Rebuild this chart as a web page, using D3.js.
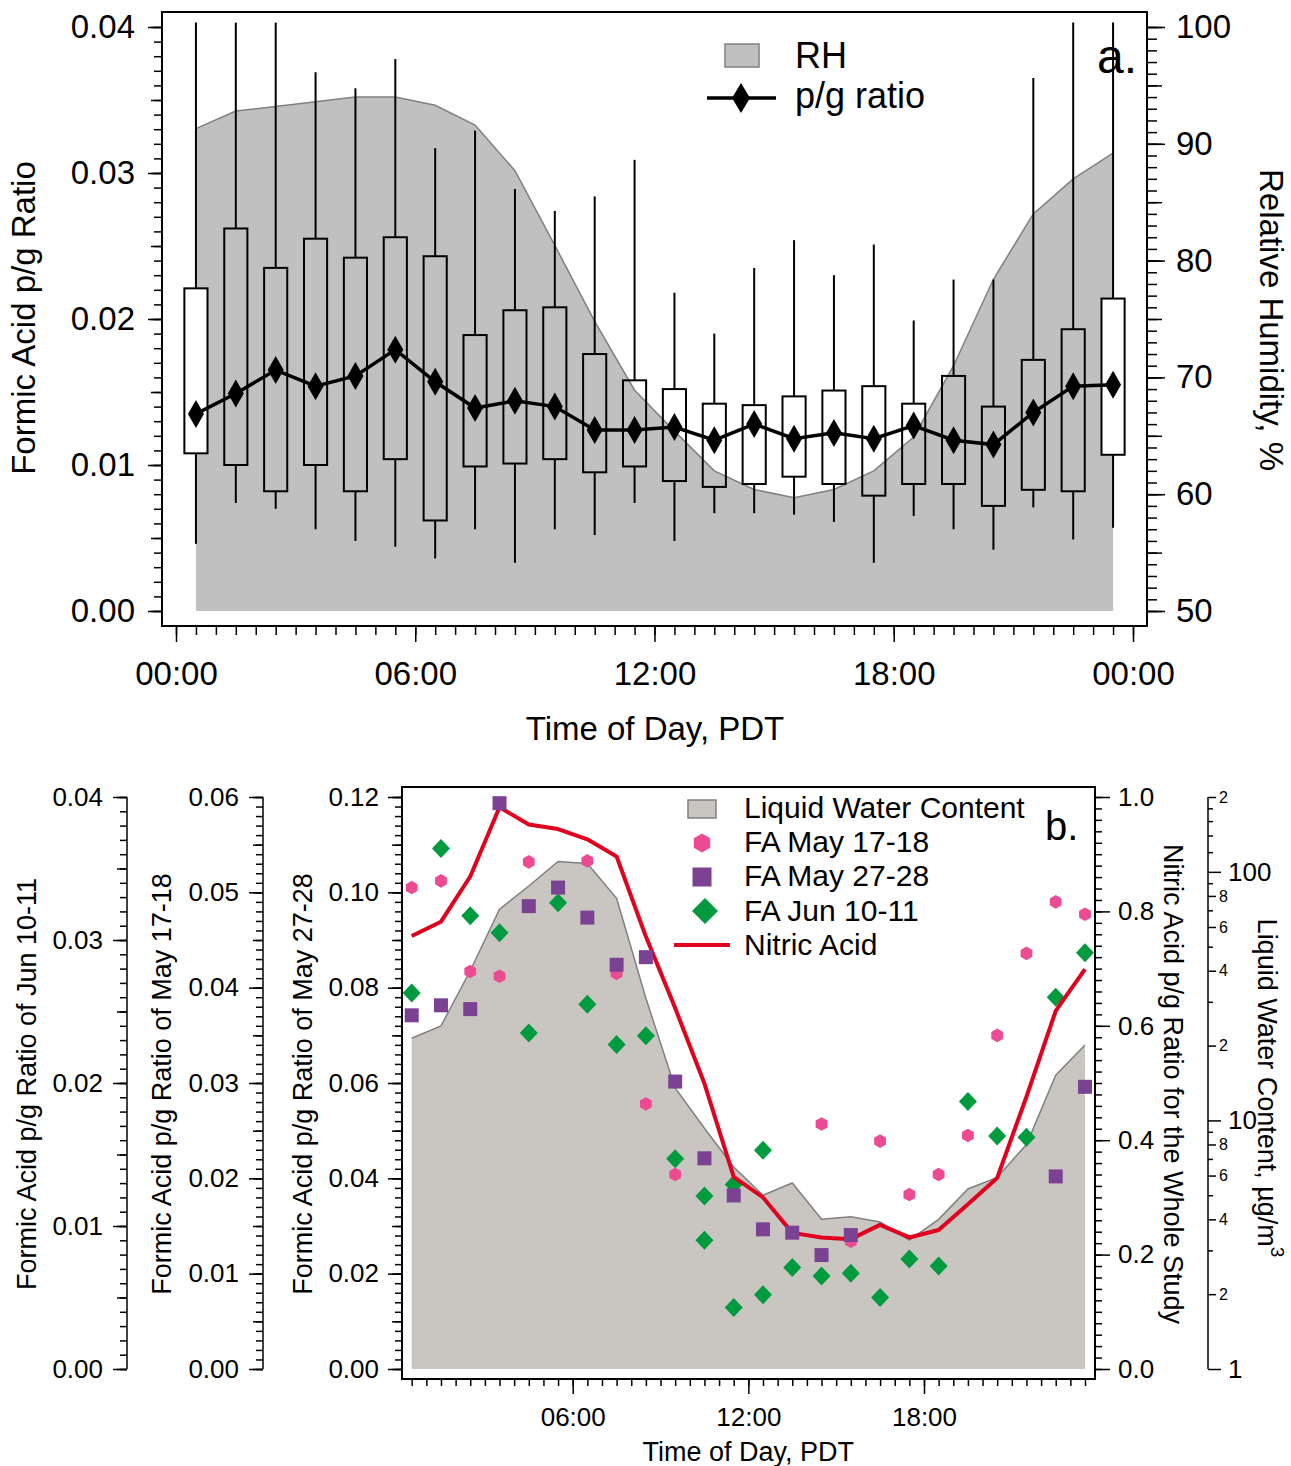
<!DOCTYPE html>
<html>
<head>
<meta charset="utf-8">
<script src="https://cdn.jsdelivr.net/npm/d3@7"></script>
<style>
    body { margin: 0; background: #fff; }
    svg text { font-family: "Liberation Sans", Arial, Helvetica, sans-serif; fill: #000; }
</style>
</head>
<body>
<svg id="chart" width="1291" height="1466"></svg>
<script>
// ---- data, panel a ----
var hours = [0.5, 1.5, 2.5, 3.5, 4.5, 5.5, 6.5, 7.5, 8.5, 9.5, 10.5, 11.5,
    12.5, 13.5, 14.5, 15.5, 16.5, 17.5, 18.5, 19.5, 20.5, 21.5, 22.5, 23.5];
var rhValues = [91.3, 92.8, 93.2, 93.6, 94.0, 94.0, 93.3, 91.6, 87.7, 81.3, 74.8, 68.9,
    65.4, 62.0, 60.4, 59.7, 60.4, 62.0, 64.9, 71.0, 78.4, 84.0, 87.0, 89.2];
var boxHigh = [0.0403, 0.0403, 0.0403, 0.0369, 0.0358, 0.0378, 0.0317, 0.0329, 0.0289, 0.0274, 0.0284, 0.0309,
    0.0218, 0.0190, 0.0235, 0.0254, 0.0230, 0.0251, 0.0199, 0.0227, 0.0227, 0.0365, 0.0403, 0.0403];
var boxQ3 = [0.0221, 0.0262, 0.0235, 0.0255, 0.0242, 0.0256, 0.0243, 0.0189, 0.0206, 0.0208, 0.0176, 0.0158,
    0.0152, 0.0142, 0.0141, 0.0147, 0.0151, 0.0154, 0.0142, 0.0161, 0.0140, 0.0172, 0.0193, 0.0214];
var boxQ1 = [0.0108, 0.0100, 0.0082, 0.0100, 0.0082, 0.0104, 0.0062, 0.0099, 0.0101, 0.0104, 0.0095, 0.0099,
    0.0089, 0.0085, 0.0087, 0.0092, 0.0087, 0.0079, 0.0087, 0.0087, 0.0072, 0.0083, 0.0082, 0.0107];
var boxLow = [0.0046, 0.0074, 0.0070, 0.0056, 0.0048, 0.0044, 0.0036, 0.0056, 0.0033, 0.0056, 0.0052, 0.0074,
    0.0048, 0.0067, 0.0067, 0.0066, 0.0061, 0.0033, 0.0065, 0.0056, 0.0042, 0.0071, 0.0049, 0.0057];
var pgRatio = [0.0135, 0.0149, 0.0165, 0.0154, 0.0161, 0.0179, 0.0157, 0.0139, 0.0144, 0.0140, 0.0124, 0.0124,
    0.0126, 0.0117, 0.0128, 0.0118, 0.0122, 0.0118, 0.0127, 0.0117, 0.0114, 0.0136, 0.0154, 0.0155];

// ---- data, panel b ----
var lwcValues = [21.4, 24.0, 40.0, 70.7, 87.7, 110, 108, 78.2, 31.0, 13.5, 9.3, 6.5,
    5.0, 5.6, 4.0, 4.1, 3.9, 3.3, 4.0, 5.3, 5.9, 8.0, 15.2, 20.1];
var nitricValues = [0.757, 0.782, 0.861, 0.982, 0.952, 0.944, 0.926, 0.896, 0.756, 0.631, 0.499, 0.336,
    0.300, 0.238, 0.230, 0.227, 0.252, 0.230, 0.243, 0.288, 0.334, 0.476, 0.626, 0.699];
var may17Values = [0.0505, 0.0512, 0.0417, 0.0412, 0.0532, null, 0.0533, 0.0415, 0.0278, 0.0204, null, null,
    null, null, 0.0257, 0.0134, 0.0239, 0.0183, 0.0204, 0.0245, 0.0350, 0.0436, 0.0490, 0.0477];
var may27Values = [0.0742, 0.0763, 0.0755, 0.1187, 0.0971, 0.1010, 0.0947, 0.0848, 0.0864, 0.0603, 0.0442, 0.0364,
    0.0293, 0.0286, 0.0239, 0.0281, null, null, null, null, null, null, 0.0404, 0.0592];
var junHours = [0.5, 1.5, 2.5, 3.5, 4.5, 5.5, 6.5, 7.5, 8.5, 9.5, 10.5, 10.5, 11.5, 11.5,
    12.5, 12.5, 13.5, 14.5, 15.5, 16.5, 17.5, 18.5, 19.5, 20.5, 21.5, 22.5, 23.5];
var junValues = [0.0263, 0.0364, 0.0317, 0.0305, 0.0235, 0.0326, 0.0255, 0.0227, 0.0233, 0.0147, 0.0121, 0.0090, 0.0129, 0.0043,
    0.0153, 0.0052, 0.0071, 0.0065, 0.0067, 0.0050, 0.0077, 0.0072, 0.0187, 0.0163, 0.0162, 0.0260, 0.0291];

var legendA = ['RH', 'p/g ratio'];
var legendB = ['Liquid Water Content', 'FA May 17-18', 'FA May 27-28', 'FA Jun 10-11', 'Nitric Acid'];

var FONT = '"Liberation Sans", Arial, Helvetica, sans-serif';
var svg = d3.select('#chart');

function tickLayer(tx, ty, axisFn, scale, values, size, fmt, pad, fontSize) {
    var g = svg.append('g').attr('transform', `translate(${tx},${ty})`);
    g.call(axisFn(scale).tickValues(values).tickSize(size).tickSizeOuter(0)
        .tickFormat(fmt || (() => '')).tickPadding(pad || 0));
    g.select('.domain').remove();
    g.selectAll('.tick line').attr('stroke', '#000').attr('stroke-width', 1.5);
    g.selectAll('.tick text').attr('font-size', fontSize || 10).attr('font-family', FONT);
    return g;
}

function vline(x, y0, y1) {
    svg.append('line').attr('x1', x).attr('x2', x).attr('y1', y0).attr('y2', y1)
        .attr('stroke', '#000').attr('stroke-width', 1.5);
}

function steps(n, step) {
    return d3.range(0, n + 1).map(i => +(i * step).toFixed(6));
}

var diamondPath = (w, h) => `M0,${-h}L${w},0L0,${h}L${-w},0Z`;
var hexPath = r => {
    var pts = d3.range(6).map(k => {
        var a = Math.PI / 3 * k - Math.PI / 2;
        return [r * Math.cos(a), r * Math.sin(a)];
    });
    return 'M' + pts.join('L') + 'Z';
};
var timeFmt = h => d3.format('02d')(h % 24) + ':00';

// ============ panel a ============
var xa = d3.scaleLinear().domain([0, 24]).range([176, 1133]);
var ya = d3.scaleLinear().domain([0, 0.04]).range([611, 27]);
var rh = d3.scaleLinear().domain([50, 100]).range([611, 27]);
var frameA = {left: 162, right: 1147, top: 12, bottom: 626};

svg.append('path')
    .datum(hours.map((h, i) => [h, rhValues[i]]))
    .attr('fill', '#c0c0c0')
    .attr('d', d3.area().x(d => xa(d[0])).y0(rh(50)).y1(d => rh(d[1])));
svg.append('path')
    .datum(hours.map((h, i) => [h, rhValues[i]]))
    .attr('fill', 'none').attr('stroke', '#808080').attr('stroke-width', 1.5)
    .attr('d', d3.line().x(d => xa(d[0])).y(d => rh(d[1])));

var boxW = xa(0.58) - xa(0);
var box = svg.append('g').selectAll('g').data(hours).enter().append('g');
box.append('line')
    .attr('x1', d => xa(d)).attr('x2', d => xa(d))
    .attr('y1', (d, i) => ya(boxHigh[i])).attr('y2', (d, i) => ya(boxQ3[i]))
    .attr('stroke', '#000').attr('stroke-width', 2);
box.append('line')
    .attr('x1', d => xa(d)).attr('x2', d => xa(d))
    .attr('y1', (d, i) => ya(boxQ1[i])).attr('y2', (d, i) => ya(boxLow[i]))
    .attr('stroke', '#000').attr('stroke-width', 2);
box.append('rect')
    .attr('x', d => xa(d) - boxW / 2).attr('width', boxW)
    .attr('y', (d, i) => ya(boxQ3[i]))
    .attr('height', (d, i) => ya(boxQ1[i]) - ya(boxQ3[i]))
    .attr('fill', (d, i) => (i === 0 || i === hours.length - 1) ? '#fff' : 'none')
    .attr('stroke', '#000').attr('stroke-width', 2);

svg.append('path')
    .datum(hours.map((h, i) => [h, pgRatio[i]]))
    .attr('fill', 'none').attr('stroke', '#000').attr('stroke-width', 3.5)
    .attr('d', d3.line().x(d => xa(d[0])).y(d => ya(d[1])));
svg.append('g').selectAll('path').data(hours).enter().append('path')
    .attr('transform', (d, i) => `translate(${xa(d)},${ya(pgRatio[i])})`)
    .attr('d', diamondPath(8, 14)).attr('fill', '#000');

// frame a
svg.append('rect')
    .attr('x', frameA.left).attr('y', frameA.top)
    .attr('width', frameA.right - frameA.left).attr('height', frameA.bottom - frameA.top)
    .attr('fill', 'none').attr('stroke', '#000').attr('stroke-width', 2);

// axes a
tickLayer(frameA.left, 0, d3.axisLeft, ya, steps(40, 0.001), 8);
tickLayer(frameA.left, 0, d3.axisLeft, ya, steps(8, 0.005), 11);
tickLayer(frameA.left, 0, d3.axisLeft, ya, steps(4, 0.01), 14, d3.format('.2f'), 13, 33);
tickLayer(frameA.right, 0, d3.axisRight, rh, d3.range(50, 101, 1), 10);
tickLayer(frameA.right, 0, d3.axisRight, rh, d3.range(50, 101, 5), 15);
tickLayer(frameA.right, 0, d3.axisRight, rh, d3.range(50, 101, 10), 18, d3.format('d'), 11, 33);
tickLayer(0, frameA.bottom, d3.axisBottom, xa, steps(48, 0.5), 9);
tickLayer(0, frameA.bottom, d3.axisBottom, xa, [0, 6, 12, 18, 24], 16, timeFmt, 20, 33);

svg.append('text').attr('transform', 'translate(35,318) rotate(-90)')
    .attr('text-anchor', 'middle').attr('font-size', 33).text('Formic Acid p/g Ratio');
svg.append('text').attr('transform', 'translate(1260,320) rotate(90)')
    .attr('text-anchor', 'middle').attr('font-size', 33).text('Relative Humidity, %');
svg.append('text').attr('x', 655).attr('y', 740)
    .attr('text-anchor', 'middle').attr('font-size', 33).text('Time of Day, PDT');

// legend a
svg.append('rect').attr('x', 725).attr('y', 44).attr('width', 34).attr('height', 23)
    .attr('fill', '#c0c0c0').attr('stroke', '#808080').attr('stroke-width', 1.5);
svg.append('line').attr('x1', 707).attr('x2', 776).attr('y1', 98).attr('y2', 98)
    .attr('stroke', '#000').attr('stroke-width', 3.5);
svg.append('path').attr('transform', 'translate(741,98)').attr('d', diamondPath(9, 15)).attr('fill', '#000');
svg.selectAll('text.lega').data(legendA).enter().append('text').attr('class', 'lega')
    .attr('x', 795).attr('y', (d, i) => 68 + i * 40).attr('font-size', 36).text(d => d);
svg.append('text').attr('x', 1097).attr('y', 73).attr('font-size', 48).text('a.');

// ============ panel b ============
var xb = d3.scaleLinear().domain([0.5, 23.5]).range([411.7, 1085]);
var yMay27 = d3.scaleLinear().domain([0, 0.12]).range([1369, 797]);
var yMay17 = d3.scaleLinear().domain([0, 0.06]).range([1369, 797]);
var yJun = d3.scaleLinear().domain([0, 0.04]).range([1369, 797]);
var yNit = d3.scaleLinear().domain([0, 1]).range([1369, 797]);
var yLwc = d3.scaleLog().domain([1, 200]).range([1369, 797]);
var frameB = {left: 402, right: 1095, top: 787, bottom: 1379};

svg.append('path')
    .datum(hours.map((h, i) => [h, lwcValues[i]]))
    .attr('fill', '#c9c6c1')
    .attr('d', d3.area().x(d => xb(d[0])).y0(yLwc(1)).y1(d => yLwc(d[1])));
svg.append('path')
    .datum(hours.map((h, i) => [h, lwcValues[i]]))
    .attr('fill', 'none').attr('stroke', '#808080').attr('stroke-width', 1.5)
    .attr('d', d3.line().x(d => xb(d[0])).y(d => yLwc(d[1])));

var PINK = '#ec4b93', PURPLE = '#7b4193', GREEN = '#009b3f', RED = '#e1001e';

svg.append('g').selectAll('path')
    .data(hours.map((h, i) => [h, may17Values[i]]).filter(d => d[1] !== null))
    .enter().append('path')
    .attr('transform', d => `translate(${xb(d[0])},${yMay17(d[1])})`)
    .attr('d', hexPath(6.8)).attr('fill', PINK);

svg.append('g').selectAll('path')
    .data(junHours.map((h, i) => [h, junValues[i]]))
    .enter().append('path')
    .attr('transform', d => `translate(${xb(d[0])},${yJun(d[1])})`)
    .attr('d', diamondPath(9, 9.5)).attr('fill', GREEN);

svg.append('path')
    .datum(hours.map((h, i) => [h, nitricValues[i]]))
    .attr('fill', 'none').attr('stroke', RED).attr('stroke-width', 4).attr('stroke-linejoin', 'round')
    .attr('d', d3.line().x(d => xb(d[0])).y(d => yNit(d[1])));

svg.append('g').selectAll('rect')
    .data(hours.map((h, i) => [h, may27Values[i]]).filter(d => d[1] !== null))
    .enter().append('rect')
    .attr('x', d => xb(d[0]) - 7).attr('y', d => yMay27(d[1]) - 7)
    .attr('width', 14).attr('height', 14).attr('fill', PURPLE);

// frame b
svg.append('rect')
    .attr('x', frameB.left).attr('y', frameB.top)
    .attr('width', frameB.right - frameB.left).attr('height', frameB.bottom - frameB.top)
    .attr('fill', 'none').attr('stroke', '#000').attr('stroke-width', 2);

// left axes b
tickLayer(frameB.left, 0, d3.axisLeft, yMay27, steps(60, 0.002), 7);
tickLayer(frameB.left, 0, d3.axisLeft, yMay27, steps(12, 0.01), 10);
tickLayer(frameB.left, 0, d3.axisLeft, yMay27, steps(6, 0.02), 14, d3.format('.2f'), 9, 26);

vline(263, 797, 1369);
tickLayer(263, 0, d3.axisLeft, yMay17, steps(60, 0.001), 7);
tickLayer(263, 0, d3.axisLeft, yMay17, steps(12, 0.005), 10);
tickLayer(263, 0, d3.axisLeft, yMay17, steps(6, 0.01), 14, d3.format('.2f'), 10, 26);

vline(127, 797, 1369);
tickLayer(127, 0, d3.axisLeft, yJun, steps(40, 0.001), 7);
tickLayer(127, 0, d3.axisLeft, yJun, steps(8, 0.005), 10);
tickLayer(127, 0, d3.axisLeft, yJun, steps(4, 0.01), 14, d3.format('.2f'), 10, 26);

// right axes b
tickLayer(frameB.right, 0, d3.axisRight, yNit, steps(50, 0.02), 7);
tickLayer(frameB.right, 0, d3.axisRight, yNit, steps(5, 0.2), 15, d3.format('.1f'), 8, 26);

vline(1208, 797, 1369);
tickLayer(1208, 0, d3.axisRight, yLwc, [3, 5, 7, 9, 30, 50, 70, 90, 120, 140, 160, 180], 5);
tickLayer(1208, 0, d3.axisRight, yLwc, [2, 4, 6, 8, 20, 40, 60, 80, 200], 8,
    v => String(Math.round(v / Math.pow(10, Math.floor(Math.log10(v))))), 3, 16);
tickLayer(1208, 0, d3.axisRight, yLwc, [1, 10, 100], 13, d3.format('d'), 7, 26);

// bottom axis b
tickLayer(0, frameB.bottom, d3.axisBottom, xb, steps(46, 0.5).map(v => v + 0.5), 7);
tickLayer(0, frameB.bottom, d3.axisBottom, xb, [6, 12, 18], 15, timeFmt, 14, 26);

svg.append('text').attr('x', xb(12)).attr('y', 1461)
    .attr('text-anchor', 'middle').attr('font-size', 27).text('Time of Day, PDT');

var leftTitles = [[36, 'Formic Acid p/g Ratio of Jun 10-11'], [171, 'Formic Acid p/g Ratio of May 17-18'],
    [312, 'Formic Acid p/g Ratio of May 27-28']];
leftTitles.forEach(t => {
    svg.append('text').attr('transform', `translate(${t[0]},1084) rotate(-90)`)
        .attr('text-anchor', 'middle').attr('font-size', 27).text(t[1]);
});
svg.append('text').attr('transform', 'translate(1164,1084) rotate(90)')
    .attr('text-anchor', 'middle').attr('font-size', 27).text('Nitric Acid p/g Ratio for the Whole Study');
var lwcTitle = svg.append('text').attr('transform', 'translate(1258,1088) rotate(90)')
    .attr('text-anchor', 'middle').attr('font-size', 27);
lwcTitle.append('tspan').text('Liquid Water Content, \u00b5g/m');
lwcTitle.append('tspan').attr('dy', -13).attr('font-size', 19).text('3');

// legend b
svg.append('rect').attr('x', 688).attr('y', 800).attr('width', 28).attr('height', 18)
    .attr('fill', '#c9c6c1').attr('stroke', '#808080').attr('stroke-width', 1.5);
svg.append('path').attr('transform', 'translate(702,843)').attr('d', hexPath(9.5)).attr('fill', PINK);
svg.append('rect').attr('x', 692.5).attr('y', 867.5).attr('width', 19).attr('height', 19).attr('fill', PURPLE);
svg.append('path').attr('transform', 'translate(705,911)').attr('d', diamondPath(13, 13)).attr('fill', GREEN);
svg.append('line').attr('x1', 674).attr('x2', 730).attr('y1', 945).attr('y2', 945)
    .attr('stroke', RED).attr('stroke-width', 4);
svg.selectAll('text.legb').data(legendB).enter().append('text').attr('class', 'legb')
    .attr('x', 744).attr('y', (d, i) => 818 + i * 34.2).attr('font-size', 30).text(d => d);
svg.append('text').attr('x', 1045).attr('y', 840).attr('font-size', 40).text('b.');
</script>
</body>
</html>
